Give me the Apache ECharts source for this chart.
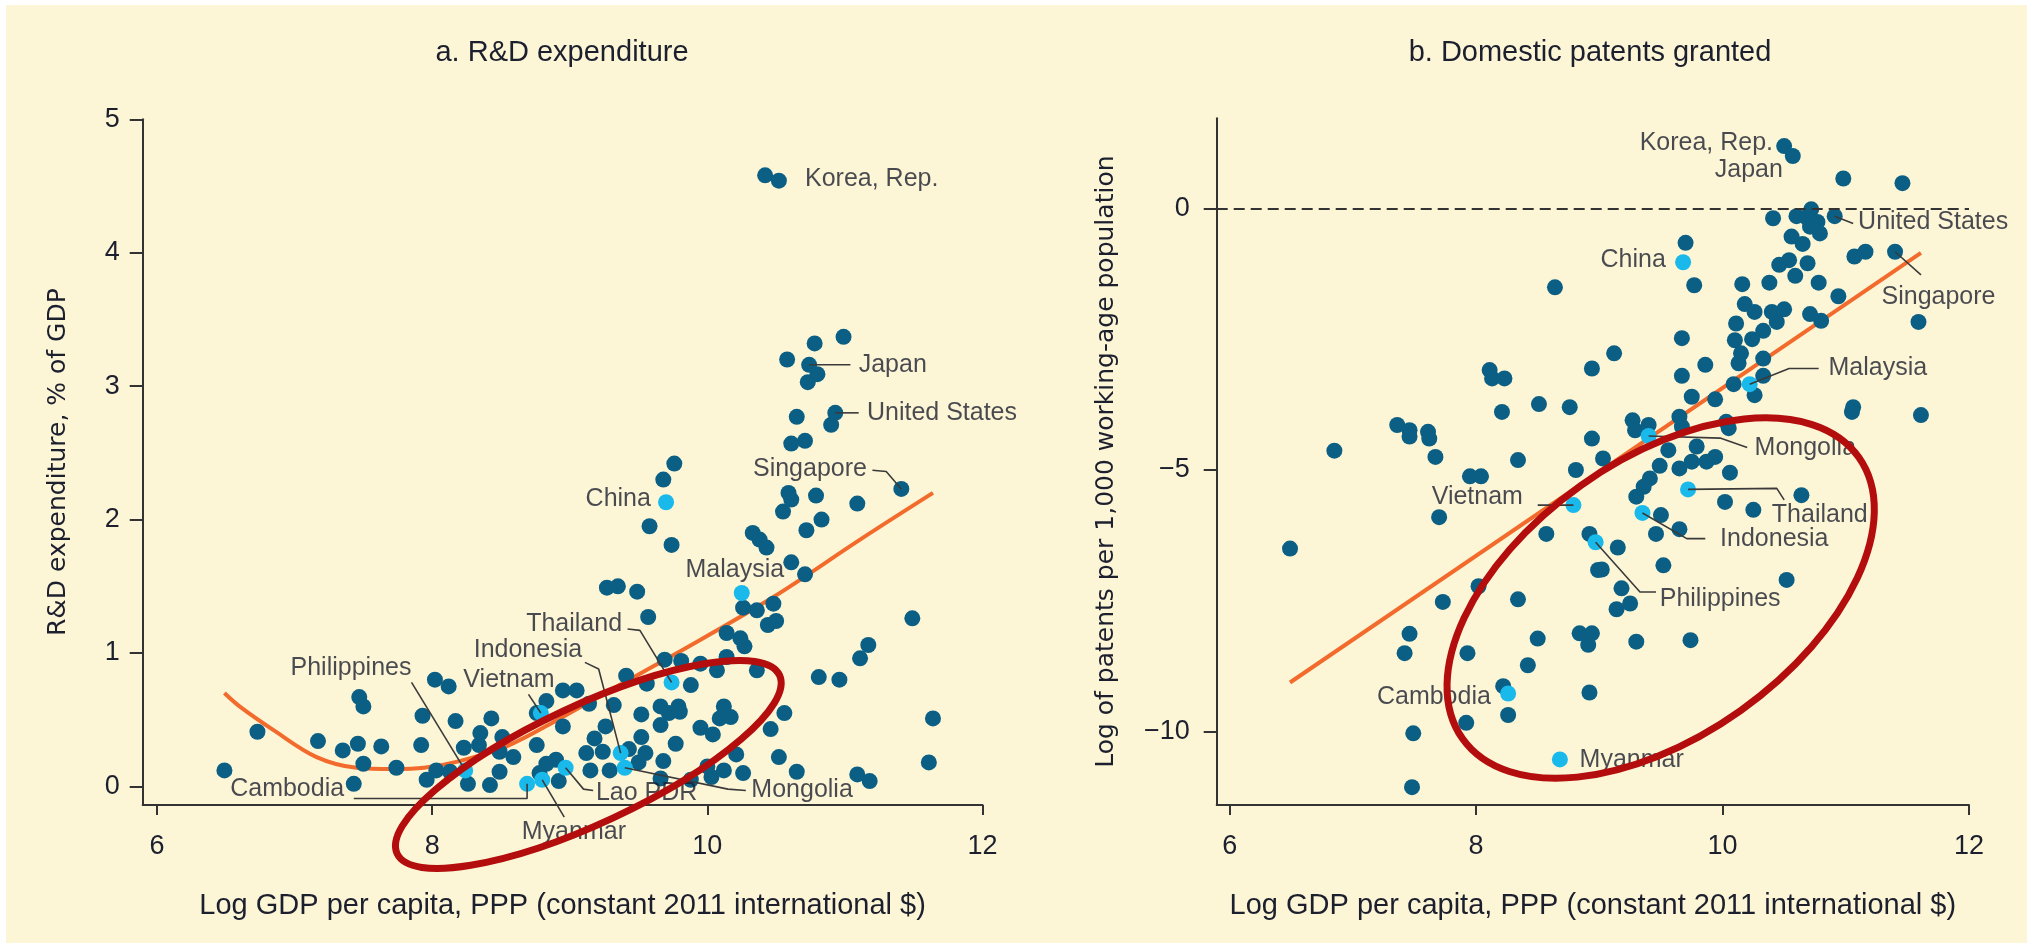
<!DOCTYPE html>
<html>
<head>
  <meta charset="utf-8">
  <title>R&D expenditure and domestic patents</title>
  <style>
    body { margin: 0; background: #ffffff; }
    #frame { position: absolute; left: 6px; top: 5px; width: 2021px; height: 938px; background: #fdf6d6; }
    #main { position: absolute; left: 0; top: 0; width: 2033px; height: 948px; }
  </style>
</head>
<body>
  <div id="frame"></div>
  <div id="main"></div>
  <script src="https://cdn.jsdelivr.net/npm/echarts@6/dist/echarts.min.js"></script>
  <script type="text/javascript">
    // panel a: R&D expenditure, % of GDP vs log GDP per capita
    const RD_OTHERS = [
      [6.49, 0.12], [6.73, 0.41], [7.17, 0.34], [7.35, 0.27], [7.46, 0.32], [7.47, 0.67], [7.50, 0.60], [7.50, 0.17],
      [7.43, 0.02], [7.63, 0.30], [7.74, 0.14], [7.93, 0.53], [7.92, 0.31], [8.02, 0.80], [8.12, 0.75], [8.17, 0.49],
      [7.96, 0.05], [8.03, 0.12], [8.13, 0.11], [8.26, 0.02], [8.23, 0.29], [8.35, 0.40], [8.43, 0.51], [8.51, 0.37],
      [8.34, 0.31], [8.49, 0.11], [8.42, 0.01], [8.59, 0.22], [8.49, 0.26], [8.76, 0.31], [8.76, 0.55], [8.83, 0.64],
      [8.95, 0.72], [8.95, 0.45], [8.83, 0.17], [8.90, 0.20], [8.92, 0.04], [8.78, 0.10], [9.05, 0.72], [9.14, 0.62],
      [9.32, 0.61], [9.52, 0.54], [9.66, 0.60], [9.79, 0.60], [9.72, 0.55], [9.80, 0.56], [9.66, 0.46], [10.12, 0.60],
      [10.17, 0.52], [10.09, 0.51], [10.56, 0.55], [10.46, 0.43], [9.95, 0.44], [10.04, 0.39], [11.64, 0.51], [9.77, 0.32],
      [9.26, 0.45], [9.18, 0.36], [9.52, 0.37], [9.43, 0.28], [9.55, 0.25], [9.12, 0.25], [9.24, 0.26], [9.15, 0.12],
      [9.29, 0.12], [9.68, 0.19], [9.66, 0.06], [10.03, 0.07], [10.12, 0.12], [10.21, 0.24], [10.26, 0.10], [10.52, 0.22],
      [10.65, 0.11], [11.09, 0.09], [11.18, 0.04], [11.61, 0.18], [9.88, 0.05], [10.00, 0.15], [9.50, 0.18],
      [10.61, 2.57], [10.71, 2.59], [9.76, 2.42], [9.68, 2.30], [9.58, 1.95], [9.74, 1.81], [10.59, 2.20], [10.61, 2.15],
      [10.79, 2.18], [11.09, 2.12], [10.55, 2.06], [10.83, 2.00], [10.72, 1.92], [10.33, 1.90], [10.38, 1.85], [10.43, 1.79],
      [10.61, 1.68], [10.71, 1.59], [10.26, 1.34], [10.36, 1.32], [10.48, 1.37], [10.44, 1.21], [10.50, 1.24], [11.49, 1.26],
      [9.27, 1.49], [9.35, 1.50], [9.49, 1.46], [9.57, 1.27], [10.14, 1.15], [10.24, 1.11], [10.27, 1.05], [11.17, 1.06],
      [11.11, 0.96], [10.14, 0.97], [10.07, 0.87], [10.36, 0.87], [10.81, 0.82], [10.96, 0.80], [9.69, 0.95], [9.81, 0.94],
      [9.95, 0.92], [9.88, 0.76], [9.41, 0.83], [9.56, 0.77],
      [10.42, 4.58], [10.99, 3.37], [10.78, 3.32], [10.58, 3.20], [10.80, 3.09], [10.73, 3.03], [10.65, 2.77], [10.90, 2.71]
    ]
    const RD_PEERS = [
      ['Korea, Rep.', 10.52, 4.54], ['Japan', 10.74, 3.16], ['United States', 10.93, 2.80], ['Singapore', 11.41, 2.23]
    ]
    const RD_FOCUS = [
      ['China', 9.70, 2.13], ['Malaysia', 10.25, 1.45], ['Thailand', 9.74, 0.78], ['Indonesia', 9.37, 0.25],
      ['Vietnam', 8.79, 0.55], ['Philippines', 8.24, 0.12], ['Cambodia', 8.69, 0.02], ['Lao PDR', 8.97, 0.14],
      ['Mongolia', 9.40, 0.14], ['Myanmar', 8.80, 0.05]
    ]
    const RD_FIT = [
      [6.49, 0.70], [6.60, 0.60], [6.85, 0.42], [7.16, 0.22], [7.45, 0.14], [7.72, 0.13], [7.94, 0.14], [8.20, 0.19],
      [8.54, 0.30], [8.93, 0.51], [9.29, 0.72], [9.78, 1.00], [10.48, 1.42], [11.11, 1.85], [11.64, 2.20]
    ]
    const RD_Y_TICKS = [0, 1, 2, 3, 4, 5]

    // panel b: log of domestic patents per 1,000 working-age population
    const PAT_OTHERS = [
      [8.64, -1.51], [8.11, -3.09], [8.13, -3.25], [8.23, -3.25], [8.21, -3.89], [8.51, -3.74], [8.76, -3.80], [8.94, -3.06],
      [8.94, -4.40], [7.36, -4.14], [7.46, -4.24], [7.46, -4.36], [7.61, -4.27], [7.62, -4.40], [6.85, -4.63], [7.67, -4.75],
      [8.34, -4.81],
      [10.98, 0.57], [11.46, 0.48], [10.72, -0.02], [10.41, -0.19], [10.60, -0.15], [10.68, -0.17], [10.77, -0.26], [10.79, -0.48],
      [10.71, -0.35], [10.56, -0.54], [10.65, -0.68], [9.70, -0.66], [9.77, -1.47], [11.07, -0.92], [11.16, -0.83], [10.46, -1.08],
      [10.54, -0.99], [10.69, -1.05], [10.59, -1.29], [10.16, -1.45], [10.38, -1.42], [10.78, -1.42], [10.94, -1.68], [11.59, -2.17],
      [10.18, -1.83], [10.26, -1.98], [10.40, -1.98], [10.50, -1.93], [10.44, -2.17], [10.71, -2.02], [10.80, -2.15], [10.11, -2.20],
      [10.10, -2.52], [10.33, -2.34], [10.24, -2.50], [10.15, -2.77], [10.13, -2.96], [10.33, -2.87], [10.33, -3.20], [10.09, -3.36],
      [10.26, -3.57], [9.67, -2.48], [9.12, -2.77], [9.86, -2.99], [9.67, -3.20], [9.94, -3.65], [9.75, -3.60], [11.06, -3.80],
      [11.05, -3.89], [11.61, -3.95], [9.27, -4.05], [9.29, -4.24], [9.40, -4.14], [9.65, -3.98], [9.67, -4.17], [10.03, -4.08],
      [10.05, -4.20], [9.03, -4.78], [9.56, -4.62], [9.79, -4.55], [9.94, -4.75],
      [7.95, -5.12], [8.04, -5.12], [8.81, -5.00], [7.70, -5.90], [6.49, -6.50], [8.57, -6.22], [8.92, -6.22], [8.99, -6.91],
      [8.02, -7.22], [7.73, -7.52], [8.34, -7.47], [7.46, -8.13], [7.42, -8.50], [7.93, -8.50], [8.50, -8.22], [8.42, -8.73],
      [8.84, -8.12], [8.94, -8.12], [8.91, -8.34], [8.22, -9.13], [8.26, -9.68], [7.92, -9.83], [7.49, -10.03], [8.92, -9.25],
      [7.48, -11.06],
      [10.64, -5.48], [10.02, -5.61], [10.25, -5.76], [10.06, -5.05], [9.65, -4.97], [9.49, -4.92], [9.75, -4.84], [9.87, -4.84],
      [9.41, -5.16], [9.36, -5.32], [9.30, -5.51], [9.50, -5.86], [9.65, -6.13], [9.46, -6.22], [9.15, -6.48], [9.52, -6.82],
      [9.02, -6.90], [10.52, -7.10], [9.18, -7.26], [9.25, -7.55], [9.14, -7.66], [9.30, -8.28], [9.74, -8.25]
    ]
    const PAT_PEERS = [
      ['Korea, Rep.', 10.50, 1.19], ['Japan', 10.57, 1.00], ['United States', 10.91, -0.15], ['Singapore', 11.40, -0.83]
    ]
    const PAT_FOCUS = [
      ['China', 9.68, -1.03], ['Malaysia', 10.22, -3.36], ['Mongolia', 9.40, -4.35], ['Vietnam', 8.79, -5.67],
      ['Thailand', 9.72, -5.37], ['Indonesia', 9.35, -5.82], ['Philippines', 8.97, -6.38], ['Cambodia', 8.26, -9.27],
      ['Myanmar', 8.68, -10.53]
    ]
    const PAT_FIT = [[6.49, -9.06], [11.61, -0.85]]
    const PAT_Y_TICKS = [-10, -5, 0]

    const X_TICKS = [6, 8, 10, 12]

    // where the country names sit and how their leader lines bend (axis units)
    const RD_NOTES = {
      'Korea, Rep.': { at: [10.71, 4.55], align: 'left' },
      'Japan': { at: [11.10, 3.16], align: 'left', via: [[11.04, 3.16]] },
      'United States': { at: [11.16, 2.80], align: 'left', via: [[11.10, 2.80]] },
      'Singapore': { at: [11.16, 2.38], align: 'right', via: [[11.30, 2.36], [11.20, 2.37]] },
      'China': { at: [9.59, 2.15], align: 'right' },
      'Malaysia': { at: [10.20, 1.62], align: 'center' },
      'Thailand': { at: [9.38, 1.22], align: 'right', via: [[9.51, 1.17], [9.42, 1.18]] },
      'Indonesia': { at: [9.09, 1.02], align: 'right', via: [[9.21, 0.88], [9.11, 0.93]] },
      'Vietnam': { at: [8.89, 0.80], align: 'right', via: [[8.70, 0.69]] },
      'Philippines': { at: [7.41, 0.89], align: 'center', via: [[7.85, 0.78]] },
      'Cambodia': { at: [7.36, -0.02], align: 'right', via: [[8.69, -0.09], [7.43, -0.09]] },
      'Lao PDR': { at: [9.19, -0.05], align: 'left', via: [[9.10, -0.02], [9.17, -0.03]] },
      'Mongolia': { at: [10.32, -0.03], align: 'left', via: [[10.15, -0.02], [10.28, -0.03]] },
      'Myanmar': { at: [9.03, -0.34], align: 'center', via: [[8.96, -0.23]] }
    }
    const PAT_NOTES = {
      'Korea, Rep.': { at: [10.41, 1.24], align: 'right' },
      'Japan': { at: [10.49, 0.73], align: 'right' },
      'United States': { at: [11.10, -0.26], align: 'left', via: [[11.06, -0.29]] },
      'Singapore': { at: [11.29, -1.69], align: 'left', via: [[11.61, -1.27]] },
      'China': { at: [9.54, -0.98], align: 'right' },
      'Malaysia': { at: [10.86, -3.06], align: 'left', via: [[10.54, -3.06], [10.78, -3.06]] },
      'Mongolia': { at: [10.26, -4.59], align: 'left', via: [[9.98, -4.39], [10.20, -4.57]] },
      'Vietnam': { at: [8.38, -5.52], align: 'right', via: [[8.50, -5.67]] },
      'Thailand': { at: [10.40, -5.86], align: 'left', via: [[10.44, -5.35], [10.50, -5.57]] },
      'Indonesia': { at: [9.98, -6.32], align: 'left', via: [[9.71, -6.31], [9.86, -6.31]] },
      'Philippines': { at: [9.49, -7.47], align: 'left', via: [[9.33, -7.33], [9.46, -7.33]] },
      'Cambodia': { at: [8.12, -9.34], align: 'right' },
      'Myanmar': { at: [8.84, -10.54], align: 'left' }
    }

    const DARK = '#0b5f84'
    const LIGHT = '#19b9ec'
    const ORANGE = '#f26b2c'
    const INK = '#1c1f2e'
    const AXIS = '#333333'
    const SANS = 'Liberation Sans'

    let lookup = (lists, name) => {
      for (let list of lists) {
        for (let r of list) {
          if (r[0] === name) {
            return [r[1], r[2]]
          }
        }
      }
    }

    let xAxis = (gi, min) => ({
      type: 'value', gridIndex: gi, min: min, max: 12,
      name: 'Log GDP per capita, PPP (constant 2011 international $)',
      nameLocation: 'middle', nameGap: 86,
      nameTextStyle: { fontFamily: SANS, fontSize: 29, color: INK },
      axisLine: { show: true, onZero: false, lineStyle: { color: AXIS, width: 2 } },
      axisTick: { show: true, length: 10, customValues: X_TICKS, lineStyle: { color: AXIS, width: 2 } },
      axisLabel: { customValues: X_TICKS, fontFamily: SANS, fontSize: 27, color: INK, margin: 28 },
      splitLine: { show: false }
    })

    let yAxis = (gi, min, max, ticks, name, gap, margin) => ({
      type: 'value', gridIndex: gi, min: min, max: max,
      name: name, nameLocation: 'middle', nameGap: gap,
      nameTextStyle: { fontFamily: 'DejaVu Sans', fontSize: 25, color: INK },
      axisLine: { show: true, onZero: false, lineStyle: { color: AXIS, width: 2 } },
      axisTick: { show: true, length: 13, customValues: ticks, lineStyle: { color: AXIS, width: 2 } },
      axisLabel: {
        customValues: ticks, fontFamily: SANS, fontSize: 27, color: INK, margin: margin,
        formatter: (v) => v < 0 ? '\u2212' + Math.abs(v) : '' + v
      },
      splitLine: { show: false }
    })

    let dots = (gi, data, color, z) => ({
      type: 'scatter', xAxisIndex: gi, yAxisIndex: gi, symbolSize: 16, z: z, silent: true,
      itemStyle: { color: color, opacity: 1 },
      data: data
    })

    let named = (list) => list.map(r => ({ name: r[0], value: [r[1], r[2]] }))

    let noteSeries = (gi, notes, lists) => {
      let out = []
      let labels = []
      Object.keys(notes).forEach(name => {
        let n = notes[name]
        let p = lookup(lists, name)
        if (n.via) {
          out.push({
            type: 'line', xAxisIndex: gi, yAxisIndex: gi, data: [p].concat(n.via),
            symbol: 'none', silent: true, clip: false, z: 5,
            lineStyle: { color: '#3a3a3a', width: 1.6 }
          })
        }
        labels.push({ name: name, value: n.at, label: { align: n.align } })
      })
      out.push({
        type: 'scatter', xAxisIndex: gi, yAxisIndex: gi, symbolSize: 0, silent: true, clip: false, z: 6,
        data: labels,
        label: {
          show: true, position: 'inside', formatter: '{b}', verticalAlign: 'middle',
          fontFamily: SANS, fontSize: 25, color: INK
        }
      })
      return out
    }

    let series = [
      { type: 'line', xAxisIndex: 0, yAxisIndex: 0, data: RD_FIT, smooth: 0.35, symbol: 'none', silent: true, z: 2,
        lineStyle: { color: ORANGE, width: 4 } },
      dots(0, RD_OTHERS, DARK, 3),
      dots(0, named(RD_PEERS), DARK, 3),
      dots(0, named(RD_FOCUS), LIGHT, 4),
      { type: 'line', xAxisIndex: 1, yAxisIndex: 1, data: PAT_FIT, symbol: 'none', silent: true, z: 2,
        lineStyle: { color: ORANGE, width: 4 },
        markLine: {
          silent: true, symbol: 'none', label: { show: false },
          lineStyle: { color: '#333333', width: 2, type: [11, 6] },
          data: [{ yAxis: 0 }]
        } },
      dots(1, PAT_OTHERS, DARK, 3),
      dots(1, named(PAT_PEERS), DARK, 3),
      dots(1, named(PAT_FOCUS), LIGHT, 4)
    ]
    series = series.concat(noteSeries(0, RD_NOTES, [RD_PEERS, RD_FOCUS]))
    series = series.concat(noteSeries(1, PAT_NOTES, [PAT_PEERS, PAT_FOCUS]))

    const OPTION = {
      animation: false,
      backgroundColor: 'transparent',
      grid: [
        { left: 142.7, right: 1050.5, top: 119.3, bottom: 143 },
        { left: 1216.7, right: 64, top: 118.3, bottom: 143 }
      ],
      xAxis: [xAxis(0, 5.896), xAxis(1, 5.895)],
      yAxis: [
        yAxis(0, -0.139, 5, RD_Y_TICKS, 'R&D expenditure, % of GDP', 72, 23),
        yAxis(1, -11.40, 1.72, PAT_Y_TICKS, 'Log of patents per 1,000 working-age population', 98, 27)
      ],
      series: series
    }

    let chart = echarts.init(document.querySelector('#main'))
    chart.setOption(OPTION)

    // hand-drawn style rings around the developing East Asia group
    let ring = (gi, at, rx, ry, deg) => {
      let p = chart.convertToPixel({ gridIndex: gi }, at)
      return {
        type: 'ellipse', x: p[0], y: p[1], rotation: deg * Math.PI / 180, z: 100, silent: true,
        shape: { cx: 0, cy: 0, rx: rx, ry: ry },
        style: { fill: null, stroke: '#b30d0d', lineWidth: 7 }
      }
    }
    let title = (x, text) => ({
      type: 'text', x: x, y: 53, z: 100, silent: true,
      style: { text: text, fontFamily: SANS, fontSize: 29, fill: INK, align: 'center', verticalAlign: 'middle' }
    })
    chart.setOption({
      graphic: [
        title(562, 'a. R&D expenditure'),
        title(1590, 'b. Domestic patents granted'),
        ring(0, [9.135, 0.165], 211, 59, 25),
        ring(1, [9.498, -7.446], 243, 138, 35.4)
      ]
    })
  </script>
</body>
</html>
